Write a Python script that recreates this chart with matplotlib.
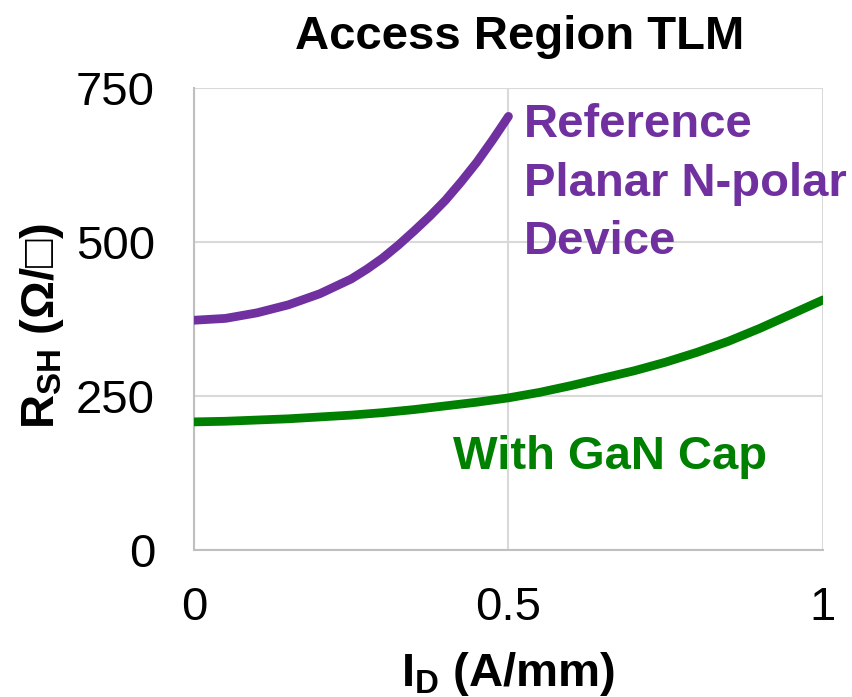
import matplotlib
matplotlib.use("Agg")
import matplotlib.pyplot as plt

# values
ref_id = [0.0, 0.05, 0.1, 0.15, 0.2, 0.25, 0.275, 0.3, 0.325, 0.35, 0.375,
          0.4, 0.425, 0.45, 0.475, 0.5]
ref_rsh = [373, 376, 385, 398, 416, 440, 456, 474, 495, 518, 542,
           568, 598, 630, 666, 704]

cap_id = [0.0, 0.05, 0.1, 0.15, 0.2, 0.25, 0.3, 0.35, 0.4, 0.45, 0.5,
          0.55, 0.6, 0.65, 0.7, 0.75, 0.8, 0.85, 0.9, 0.95, 1.0]
cap_rsh = [208, 209, 211, 213, 216, 219, 223, 228, 234, 240, 247,
           256, 267, 279, 291, 305, 321, 339, 360, 383, 406]

x_ticks = [0, 0.5, 1]
x_tick_labels = ["0", "0.5", "1"]
y_ticks = [0, 250, 500, 750]

PURPLE = "#7030A0"
GREEN = "#008000"

plt.rcParams["font.family"] = ["Liberation Sans", "DejaVu Sans"]
plt.rcParams["mathtext.fontset"] = "custom"
plt.rcParams["mathtext.rm"] = "Liberation Sans"
plt.rcParams["mathtext.bf"] = "Liberation Sans:bold"

fig = plt.figure(figsize=(8.53, 6.97), dpi=100)
ax = fig.add_axes([0.2274, 0.2109, 0.7374, 0.6628])

ax.plot(ref_id, ref_rsh, color=PURPLE, lw=6.3, solid_capstyle="round",
        solid_joinstyle="round", zorder=3)
ax.plot(cap_id, cap_rsh, color=GREEN, lw=6.3, solid_capstyle="round",
        solid_joinstyle="round", zorder=3)

ax.set_xlim(0, 1)
ax.set_ylim(0, 750)
ax.set_xticks(x_ticks)
ax.set_xticklabels(x_tick_labels)
ax.set_yticks(y_ticks)
ax.tick_params(axis="both", length=0, labelsize=34)
ax.tick_params(axis="x", pad=26)
ax.tick_params(axis="y", pad=28)

ax.grid(True, color="#d9d9d9", lw=1.5)
ax.set_axisbelow(True)
for s in ["top", "right"]:
    ax.spines[s].set_visible(False)
for s in ["left", "bottom"]:
    ax.spines[s].set_color("#bfbfbf")
    ax.spines[s].set_linewidth(1.5)

ax.set_title("Access Region TLM", fontsize=34, fontweight="bold", pad=28,
             x=0.517)
ax.set_xlabel(r"I$_\mathbf{D}$ (A/mm)", fontsize=34, fontweight="bold",
              labelpad=14)
ax.set_ylabel(r"R$_\mathbf{SH}$ (Ω/□)", fontsize=34, fontweight="bold")
ax.yaxis.set_label_coords(-0.203, 0.485)

ax.text(0.524, 595, "Reference\nPlanar N-polar\nDevice", color=PURPLE,
        fontsize=34, fontweight="bold", va="center", ha="left",
        linespacing=1.42)
ax.text(0.412, 151, "With GaN Cap", color=GREEN, fontsize=34,
        fontweight="bold", va="center", ha="left")

fig.savefig("out.png", dpi=100)
